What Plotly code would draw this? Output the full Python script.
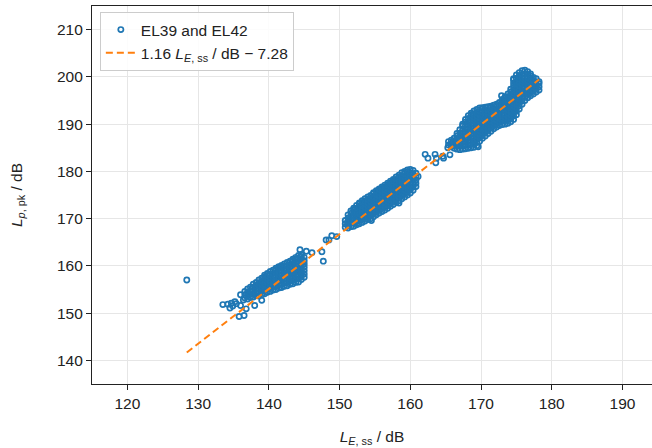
import plotly.graph_objects as go

# ---- scattered / isolated points ----
iso_x = [128.4, 133.5, 134.2, 134.5, 134.7, 134.9, 135.2, 135.4, 135.8, 136.0, 136.0, 136.4,
         136.5, 136.8, 138.0, 139.0, 144.4, 145.3, 146.1, 147.5, 147.7, 148.1, 148.5, 148.9,
         149.6, 153.6, 154.4, 154.5, 158.4, 161.1, 162.1, 162.5, 163.5, 163.6, 163.7, 164.6,
         164.7, 165.3, 165.6, 169.6, 170.5, 172.9, 173.1]
iso_y = [157.0, 151.8, 151.9, 151.1, 152.1, 151.5, 152.4, 152.0, 149.3, 153.9, 151.6, 152.8,
         149.5, 150.9, 151.6, 152.7, 163.4, 163.1, 162.8, 163.0, 161.0, 165.5, 165.5, 166.4,
         166.2, 173.1, 173.8, 169.6, 173.3, 178.9, 183.6, 182.8, 183.6, 181.8, 182.8, 183.2,
         182.8, 185.0, 183.5, 185.2, 188.8, 196.0, 194.8]

# ---- dense cluster 1 (columns of points) ----
c1_x = [136.6, 137.0, 137.4, 137.8, 138.2, 138.6, 139.0, 139.4, 139.8, 140.2, 140.6,
        141.0, 141.4, 141.8, 142.2, 142.6, 143.0, 143.4, 143.8, 144.2, 144.6, 145.0]
c1_y = [
    [153.2, 153.9, 154.6],
    [153.0, 153.7, 154.4, 155.1],
    [153.3, 154.0, 154.7, 155.5],
    [153.4, 154.1, 154.8, 155.5, 156.1],
    [153.7, 154.4, 155.1, 155.8, 156.5],
    [153.6, 154.3, 155.0, 155.7, 156.4, 157.0],
    [153.9, 154.6, 155.3, 156.0, 156.7, 157.4],
    [154.1, 154.8, 155.5, 156.2, 156.9, 157.6, 158.0],
    [154.4, 155.1, 155.8, 156.5, 157.2, 157.9, 158.4],
    [154.6, 155.3, 156.0, 156.7, 157.4, 158.1, 158.8],
    [154.9, 155.6, 156.3, 157.0, 157.7, 158.4, 159.1],
    [155.0, 155.7, 156.4, 157.1, 157.8, 158.5, 159.2, 159.5],
    [155.3, 156.0, 156.7, 157.4, 158.1, 158.8, 159.5, 159.8],
    [155.4, 156.1, 156.8, 157.5, 158.2, 158.9, 159.6, 160.1],
    [155.7, 156.4, 157.1, 157.8, 158.5, 159.2, 159.9, 160.4],
    [155.8, 156.5, 157.2, 157.9, 158.6, 159.3, 160.0, 160.7],
    [156.1, 156.8, 157.5, 158.2, 158.9, 159.6, 160.3, 161.0],
    [156.2, 156.9, 157.6, 158.3, 159.0, 159.7, 160.4, 161.1, 161.4],
    [156.5, 157.2, 157.9, 158.6, 159.3, 160.0, 160.7, 161.4, 161.8],
    [156.6, 157.3, 158.0, 158.7, 159.4, 160.1, 160.8, 161.5, 162.2],
    [157.1, 157.8, 158.5, 159.2, 159.9, 160.6, 161.3, 162.0, 162.4],
    [157.6, 158.3, 159.0, 159.7, 160.4, 161.1, 161.8],
]

# ---- dense cluster 2 ----
c2_x = [150.8, 151.2, 151.6, 152.0, 152.4, 152.8, 153.2, 153.6, 154.0, 154.4, 154.8, 155.2,
        155.6, 156.0, 156.4, 156.8, 157.2, 157.6, 158.0, 158.4, 158.8, 159.2, 159.6, 160.0,
        160.4, 160.8]
c2_y = [
    [168.2, 168.9, 169.6],
    [168.0, 168.7, 169.4, 170.1, 170.8],
    [168.3, 169.0, 169.7, 170.4, 171.1, 171.6],
    [168.4, 169.1, 169.8, 170.5, 171.2, 171.9, 172.2],
    [168.7, 169.4, 170.1, 170.8, 171.5, 172.2, 172.8],
    [168.9, 169.6, 170.3, 171.0, 171.7, 172.4, 173.1, 173.3],
    [169.2, 169.9, 170.6, 171.3, 172.0, 172.7, 173.4, 173.8],
    [169.5, 170.2, 170.9, 171.6, 172.3, 173.0, 173.7, 174.2],
    [169.8, 170.5, 171.2, 171.9, 172.6, 173.3, 174.0, 174.6],
    [170.0, 170.7, 171.4, 172.1, 172.8, 173.5, 174.2, 174.9],
    [170.4, 171.1, 171.8, 172.5, 173.2, 173.9, 174.6, 175.3, 175.5],
    [170.8, 171.5, 172.2, 172.9, 173.6, 174.3, 175.0, 175.7, 175.9],
    [171.2, 171.9, 172.6, 173.3, 174.0, 174.7, 175.4, 176.1, 176.3],
    [171.5, 172.2, 172.9, 173.6, 174.3, 175.0, 175.7, 176.4, 176.7],
    [171.8, 172.5, 173.2, 173.9, 174.6, 175.3, 176.0, 176.7, 177.1],
    [172.2, 172.9, 173.6, 174.3, 175.0, 175.7, 176.4, 177.1, 177.5],
    [172.6, 173.3, 174.0, 174.7, 175.4, 176.1, 176.8, 177.5, 177.9],
    [173.0, 173.7, 174.4, 175.1, 175.8, 176.5, 177.2, 177.9, 178.3],
    [173.4, 174.1, 174.8, 175.5, 176.2, 176.9, 177.6, 178.3, 178.8],
    [173.8, 174.5, 175.2, 175.9, 176.6, 177.3, 178.0, 178.7, 179.2],
    [174.2, 174.9, 175.6, 176.3, 177.0, 177.7, 178.4, 179.1, 179.7],
    [174.6, 175.3, 176.0, 176.7, 177.4, 178.1, 178.8, 179.5, 180.0],
    [175.0, 175.7, 176.4, 177.1, 177.8, 178.5, 179.2, 179.9, 180.3],
    [175.4, 176.1, 176.8, 177.5, 178.2, 178.9, 179.6, 180.4],
    [176.0, 176.7, 177.4, 178.1, 178.8, 179.5, 180.2],
    [176.8, 177.5, 178.2, 178.9, 179.6],
]

# ---- dense cluster 3 ----
c3_x = [165.4, 165.8, 166.2, 166.6, 167.0, 167.4, 167.8, 168.2, 168.6, 169.0, 169.4, 169.8,
        170.2, 170.6, 171.0, 171.4, 171.8, 172.2, 172.6, 173.0, 173.4, 173.8, 174.2, 174.6,
        175.0, 175.4, 175.8, 176.2, 176.6, 177.0, 177.4, 177.8, 178.2]
c3_y = [
    [185.6, 186.3],
    [185.2, 185.9, 186.6],
    [184.9, 185.6, 186.3, 187.0],
    [184.7, 185.4, 186.1, 186.8, 187.5, 188.0],
    [184.6, 185.3, 186.0, 186.7, 187.4, 188.1, 188.8],
    [184.7, 185.4, 186.1, 186.8, 187.5, 188.2, 188.9, 189.6, 190.0],
    [184.8, 185.5, 186.2, 186.9, 187.6, 188.3, 189.0, 189.7, 190.4, 191.0],
    [184.9, 185.6, 186.3, 187.0, 187.7, 188.4, 189.1, 189.8, 190.5, 191.2, 191.8],
    [185.0, 185.7, 186.4, 187.1, 187.8, 188.5, 189.2, 189.9, 190.6, 191.3, 192.0, 192.3],
    [185.1, 185.8, 186.5, 187.2, 187.9, 188.6, 189.3, 190.0, 190.7, 191.4, 192.1, 192.8],
    [185.4, 186.1, 186.8, 187.5, 188.2, 188.9, 189.6, 190.3, 191.0, 191.7, 192.4, 193.1],
    [186.4, 187.1, 187.8, 188.5, 189.2, 189.9, 190.6, 191.3, 192.0, 192.7, 193.4],
    [187.0, 187.7, 188.4, 189.1, 189.8, 190.5, 191.2, 191.9, 192.6, 193.3, 193.5],
    [187.5, 188.2, 188.9, 189.6, 190.3, 191.0, 191.7, 192.4, 193.1, 193.6],
    [188.0, 188.7, 189.4, 190.1, 190.8, 191.5, 192.2, 192.9, 193.7],
    [188.5, 189.2, 189.9, 190.6, 191.3, 192.0, 192.7, 193.4, 193.8],
    [189.0, 189.7, 190.4, 191.1, 191.8, 192.5, 193.2, 194.0],
    [189.4, 190.1, 190.8, 191.5, 192.2, 192.9, 193.6, 194.2],
    [189.7, 190.4, 191.1, 191.8, 192.5, 193.2, 193.9, 194.6],
    [189.9, 190.6, 191.3, 192.0, 192.7, 193.4, 194.1, 194.8, 195.2],
    [190.0, 190.7, 191.4, 192.1, 192.8, 193.5, 194.2, 194.9, 195.6, 195.8],
    [190.2, 190.9, 191.6, 192.3, 193.0, 193.7, 194.4, 195.1, 195.8, 196.4],
    [190.5, 191.2, 191.9, 192.6, 193.3, 194.0, 194.7, 195.4, 196.1, 196.8, 197.4],
    [191.0, 191.7, 192.4, 193.1, 193.8, 194.5, 195.2, 195.9, 196.6, 197.3, 198.0, 198.7, 199.4, 199.6],
    [192.0, 192.7, 193.4, 194.1, 194.8, 195.5, 196.2, 196.9, 197.6, 198.3, 199.0, 199.7, 200.4],
    [193.2, 193.9, 194.6, 195.3, 196.0, 196.7, 197.4, 198.1, 198.8, 199.5, 200.2, 200.9],
    [194.2, 194.9, 195.6, 196.3, 197.0, 197.7, 198.4, 199.1, 199.8, 200.5, 201.3],
    [195.0, 195.7, 196.4, 197.1, 197.8, 198.5, 199.2, 199.9, 200.6, 201.4],
    [195.6, 196.3, 197.0, 197.7, 198.4, 199.1, 199.8, 200.5, 201.1],
    [196.0, 196.7, 197.4, 198.1, 198.8, 199.5, 200.2, 200.6],
    [196.4, 197.1, 197.8, 198.5, 199.2, 199.9],
    [196.8, 197.5, 198.2, 198.9, 199.6],
    [197.2, 197.9, 198.6, 199.0],
]

# fit coefficients (from legend)
fit_slope = 1.16
fit_offset = -7.28

x_tick_vals = [120, 130, 140, 150, 160, 170, 180, 190]
y_tick_vals = [140, 150, 160, 170, 180, 190, 200, 210]

# ---- assemble ----
all_x, all_y = list(iso_x), list(iso_y)
for cx, cys in [(c1_x, c1_y), (c2_x, c2_y), (c3_x, c3_y)]:
    for xv, ys in zip(cx, cys):
        for yv in ys:
            all_x.append(xv)
            all_y.append(yv)

x_fit = [min(all_x), max(all_x)]
y_fit = [fit_slope * v + fit_offset for v in x_fit]

BLUE = "#1f77b4"
ORANGE = "#ff7f0e"
FONT = "Liberation Sans, Arial, sans-serif"

fig = go.Figure()
fig.add_trace(go.Scatter(
    x=all_x, y=all_y, mode="markers", name="EL39 and EL42",
    marker=dict(symbol="circle-open", size=5.2, color=BLUE,
                line=dict(width=1.7, color=BLUE)),
))
fig.add_trace(go.Scatter(
    x=x_fit, y=y_fit, mode="lines",
    name="1.16 <i>L</i><sub><i>E</i>, ss</sub> / dB − 7.28",
    line=dict(color=ORANGE, width=2, dash="7px,4px"),
))

axis_common = dict(
    showgrid=True, gridcolor="#e6e6e6", gridwidth=1, zeroline=False,
    showline=True, linecolor="#222222", linewidth=1.2,
    ticks="outside", ticklen=5, tickwidth=1, tickcolor="#222222",
    tickfont=dict(family=FONT, size=15.5, color="#222222"),
)

fig.update_layout(
    width=652, height=448,
    margin=dict(l=92, r=0, t=6, b=64),
    plot_bgcolor="white", paper_bgcolor="white",
    font=dict(family=FONT, size=15.5, color="#222222"),
    showlegend=True,
    legend=dict(x=0.014, y=0.984, xanchor="left", yanchor="top",
                bordercolor="#cccccc", borderwidth=1, bgcolor="rgba(255,255,255,0.85)",
                font=dict(family=FONT, size=15.5, color="#222222"),
                tracegroupgap=0, itemwidth=30),
    xaxis=dict(range=[115, 194.17], tickvals=x_tick_vals, mirror=True,
               title=dict(text="<i>L</i><sub><i>E</i>, ss</sub> / dB", standoff=20,
                          font=dict(family=FONT, size=15.5)),
               **axis_common),
    yaxis=dict(range=[135, 215], tickvals=y_tick_vals, mirror=False,
               title=dict(text="<i>L</i><sub><i>p</i>, pk</sub> / dB", standoff=30,
                          font=dict(family=FONT, size=15.5)),
               **axis_common),
)

fig.write_html("out.html")
